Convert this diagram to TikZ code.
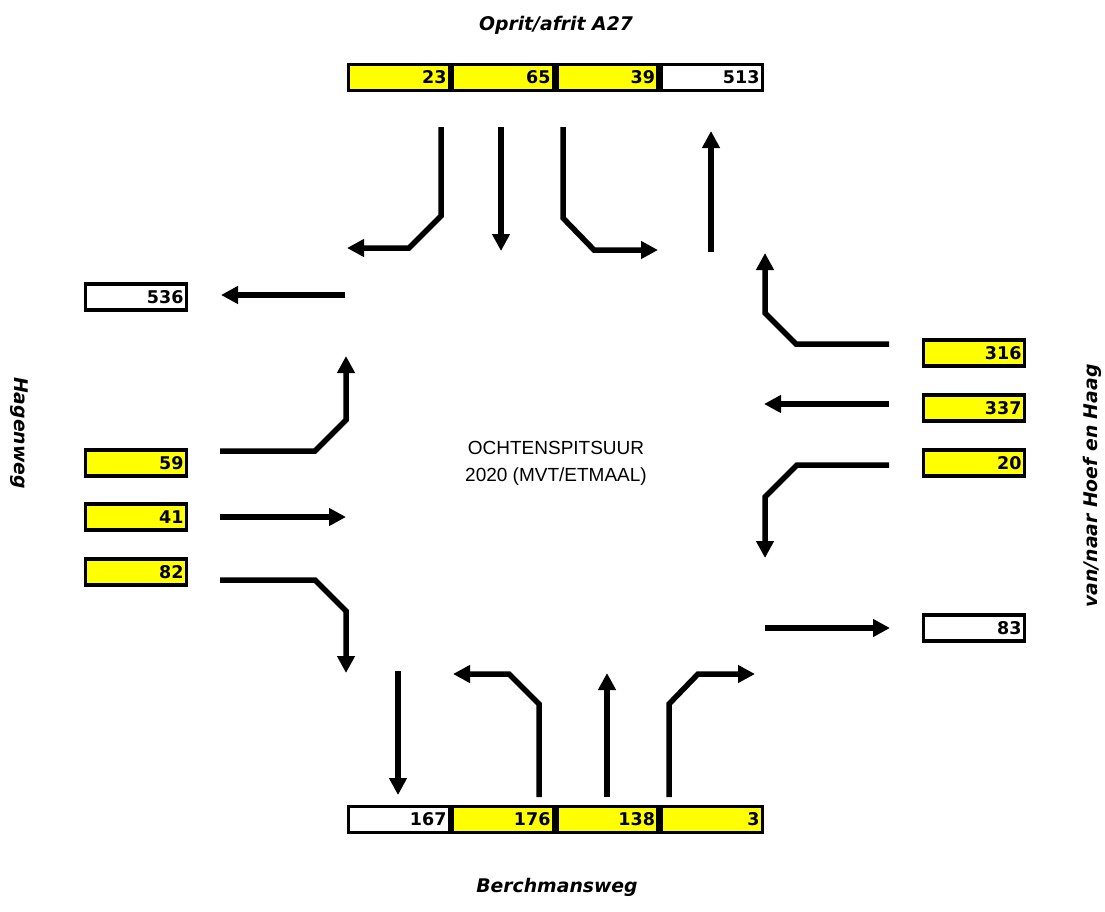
\documentclass[tikz,border=0pt]{standalone}
\usepackage{fontspec}
\setmainfont{DejaVu Sans}
\newfontfamily\titlefont{Liberation Sans}
\usetikzlibrary{arrows.meta}
\definecolor{cyel}{RGB}{255,255,0}
\begin{document}
\begin{tikzpicture}[x=1pt,y=-1pt,
  arr/.style={line width=5.5pt, line join=miter, -{Triangle[length=17pt,width=17pt]}},
  cnt/.style={draw, line width=3.2pt, minimum width=101pt, minimum height=26pt, text width=95pt, align=right, inner xsep=3pt, inner ysep=0pt, font=\fontsize{17.5}{17.5}\selectfont\bfseries},
  inn/.style={cnt, fill=cyel},
  outb/.style={cnt, fill=white},
  road/.style={font=\fontsize{18.8}{18.8}\selectfont\bfseries\itshape},
  title/.style={font=\titlefont\fontsize{19}{27}\selectfont, align=center}
]
\useasboundingbox (0,0) rectangle (1105,911);

% road labels
\node[road] (lnorth) at (556,25) {Oprit/afrit A27};
\node[road] (lsouth) at (557,887) {Berchmansweg};
\node[road, rotate=-90] (lwest) at (19,433) {Hagenweg};
\node[road, rotate=90] (least) at (1092,486) {van/naar Hoef en Haag};

\node[title] (ttl) at (556,463) {OCHTENSPITSUUR\\2020 (MVT/ETMAAL)};

% top boxes
\node[inn] (t1) at (399,77.5) {23};
\node[inn] (t2) at (503,77.5) {65};
\node[inn] (t3) at (607.5,77.5) {39};
\node[outb] (t4) at (712,77.5) {513};

% bottom boxes
\node[outb] (b1) at (399,819.5) {167};
\node[inn] (b2) at (503,819.5) {176};
\node[inn] (b3) at (607.5,819.5) {138};
\node[inn] (b4) at (712,819.5) {3};

% left boxes
\node[outb] (w0) at (136,297) {536};
\node[inn] (w1) at (136,463) {59};
\node[inn] (w2) at (136,517) {41};
\node[inn] (w3) at (136,572) {82};

% right boxes
\node[inn] (e1) at (974,353) {316};
\node[inn] (e2) at (974,408) {337};
\node[inn] (e3) at (974,463) {20};
\node[outb] (e0) at (974,628) {83};

% north arrows
\draw[arr] (441,127) -- (441,216) -- (409,248) -- (347,248);
\draw[arr] (501,127) -- (501,251);
\draw[arr] (563,127) -- (563,218) -- (594,250) -- (658,250);
\draw[arr] (711,252) -- (711,131);

% west arrows
\draw[arr] (345,295) -- (221,295);
\draw[arr] (220,451) -- (315,451) -- (346,420) -- (346,356);
\draw[arr] (220,517) -- (346,517);
\draw[arr] (220,580) -- (315,580) -- (346,611) -- (346,673);

% east arrows
\draw[arr] (889,344) -- (796,344) -- (765,313) -- (765,253);
\draw[arr] (889,404) -- (764,404);
\draw[arr] (889,465) -- (797,465) -- (765,497) -- (765,558);
\draw[arr] (765,628) -- (890,628);

% south arrows
\draw[arr] (398,671) -- (398,795);
\draw[arr] (539,797) -- (539,704) -- (509,674) -- (453,674);
\draw[arr] (607,797) -- (607,673);
\draw[arr] (669,797) -- (669,704) -- (698,674) -- (755,674);
\end{tikzpicture}
\end{document}
